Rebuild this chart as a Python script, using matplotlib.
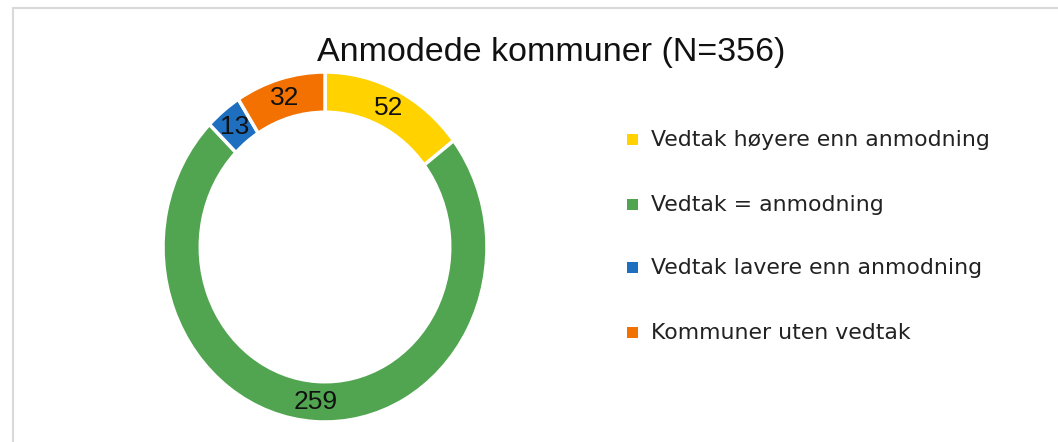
import matplotlib
matplotlib.use("Agg")
import matplotlib.pyplot as plt
from matplotlib.lines import Line2D
import numpy as np

# Data
categories = [
    "Vedtak høyere enn anmodning",
    "Vedtak = anmodning",
    "Vedtak lavere enn anmodning",
    "Kommuner uten vedtak",
]
counts = [52, 259, 13, 32]
colors = ["#FFD200", "#51A551", "#1F6FC0", "#F27100"]
title = "Anmodede kommuner (N=356)"

W, H = 1058, 442
NUM_FONT = ["Liberation Sans", "DejaVu Sans"]
LEGEND_FONT = ["DejaVu Sans"]

fig = plt.figure(figsize=(W / 100, H / 100), dpi=100)
fig.patch.set_facecolor("white")

# chart frame (light grey border, runs off the right/bottom edges)
border = "#D9D9D9"
fig.add_artist(Line2D([13 / W, 1], [1 - 8 / H, 1 - 8 / H], color=border, lw=1.5,
                      transform=fig.transFigure))
fig.add_artist(Line2D([13 / W, 13 / W], [0, 1 - 8 / H], color=border, lw=1.5,
                      transform=fig.transFigure))

# donut axes, placed in pixel terms (slightly taller than wide, like the source)
cx, cy, rx, ry = 325, 247, 162, 175
ax = fig.add_axes([(cx - rx) / W, (H - cy - ry) / H, 2 * rx / W, 2 * ry / H])
ring = 0.23
wedges, _ = ax.pie(counts, colors=colors, startangle=90, counterclock=False,
                   radius=1, wedgeprops=dict(width=ring, edgecolor="white", linewidth=2.5))
ax.set_aspect("auto")
ax.set_xlim(-1, 1)
ax.set_ylim(-1, 1)
ax.axis("off")

# value labels in the middle of the ring
for w, v in zip(wedges, counts):
    ang = np.deg2rad((w.theta1 + w.theta2) / 2)
    r = 1 - ring / 2
    ax.text(r * np.cos(ang), r * np.sin(ang), str(v), ha="center", va="center",
            fontsize=19, family=NUM_FONT, color="#111111")

fig.text(551 / W, 1 - 52 / H, title, ha="center", va="center",
         fontsize=24.5, family=NUM_FONT, color="#111111")

# legend drawn by hand to match spacing
leg_y = [140, 205, 268, 333]
for lab, col, y in zip(categories, colors, leg_y):
    fig.patches.append(plt.Rectangle((627 / W, 1 - (y + 5) / H), 11 / W, 11 / H,
                                     facecolor=col, edgecolor="none",
                                     transform=fig.transFigure, figure=fig))
    fig.text(651 / W, 1 - y / H, lab, ha="left", va="center",
             fontsize=15.8, family=LEGEND_FONT, color="#222222")

fig.savefig("out.png", dpi=100, facecolor="white")
